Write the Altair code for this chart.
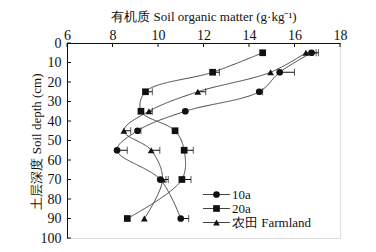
import altair as alt
import pandas as pd

depth = [5, 15, 25, 35, 45, 55, 70, 90]
series_names = ["10a", "20a", "农田 Farmland"]
som_10a = [16.75, 15.35, 14.45, 11.2, 9.1, 8.2, 10.1, 11.0]
som_20a = [14.6, 12.4, 9.45, 9.25, 10.75, 11.15, 11.05, 8.65]
som_farm = [16.5, 14.95, 11.75, 9.6, 8.5, 9.7, 10.2, 9.4]
err_10a = [0.3, 0.65, 0.15, 0.0, 0.15, 0.45, 0.25, 0.35]
err_20a = [0.0, 0.3, 0.3, 0.0, 0.0, 0.4, 0.4, 0.0]
err_farm = [0.45, 0.0, 0.35, 0.15, 0.3, 0.38, 0.25, 0.0]
x_ticks = [6, 8, 10, 12, 14, 16, 18]
y_ticks = [0, 10, 20, 30, 40, 50, 60, 70, 80, 90, 100]

rows = []
for name, vals, errs in zip(series_names, [som_10a, som_20a, som_farm], [err_10a, err_20a, err_farm]):
    for d, v, e in zip(depth, vals, errs):
        rows.append({"series": name, "line": name, "depth": d, "som": v, "hi": v + e, "err": e})
df = pd.DataFrame(rows)

FONT = "Liberation Serif"
INK = "#111111"

xscale = alt.Scale(domain=[6, 18], nice=False, zero=False)
yscale = alt.Scale(domain=[0, 100], reverse=True, nice=False)

X_AX = alt.Axis(orient="top", values=x_ticks, title="有机质 Soil organic matter (g·kg⁻¹)",
                labelPadding=1, titlePadding=5, labelOverlap=False, labelFlush=False,
                ticks=False, grid=False, labelFont=FONT, titleFont=FONT,
                labelFontSize=14, titleFontSize=13)
Y_AX = alt.Axis(orient="left", values=y_ticks, title="土层深度 Soil depth (cm)",
                labelPadding=6, titleX=-31, titleY=98, titleBaseline="middle",
                titleAlign="center", titleAngle=270, labelOverlap=False, labelFlush=False,
                ticks=False, grid=False, labelFont=FONT, titleFont=FONT,
                labelFontSize=14, titleFontSize=13)


def X(field):
    return alt.X(field, scale=xscale, axis=X_AX)


def Y(field):
    return alt.Y(field, scale=yscale, axis=Y_AX)


LEG_X, LEG_Y = 143, 145

base = alt.Chart(df)

lines = base.mark_line(interpolate="catmull-rom", color="#444444", strokeWidth=1).encode(
    x=X("som:Q"), y=Y("depth:Q"), order="depth:Q",
    strokeDash=alt.StrokeDash(
        "line:N",
        scale=alt.Scale(range=[[1, 0], [1, 0], [1, 0]]),
        legend=alt.Legend(title=None, orient="none", legendX=LEG_X, legendY=LEG_Y,
                          symbolType="M-4,0H4", symbolSize=45, symbolStrokeWidth=1,
                          symbolStrokeColor="#333333", labelOpacity=0, labelOffset=9,
                          labelFont=FONT, labelFontSize=13, rowPadding=0)))

err_df = df[df["err"] > 0]
err_rule = alt.Chart(err_df).mark_rule(color=INK, strokeWidth=1).encode(
    x=X("som:Q"), x2="hi:Q", y=Y("depth:Q"))
err_cap = alt.Chart(err_df).mark_tick(color=INK, orient="vertical", size=7, thickness=1).encode(
    x=X("hi:Q"), y=Y("depth:Q"))

shape_scale = alt.Scale(domain=series_names, range=["circle", "square", "triangle-up"])
points = base.mark_point(filled=True, opacity=1, color=INK).encode(
    x=X("som:Q"), y=Y("depth:Q"),
    shape=alt.Shape("series:N", scale=shape_scale,
                    legend=alt.Legend(title=None, orient="none", legendX=LEG_X, legendY=LEG_Y,
                                      symbolSize=45, symbolFillColor=INK, symbolStrokeColor=INK,
                                      symbolStrokeWidth=0, labelOffset=9,
                                      labelFont=FONT, labelFontSize=13, labelColor=INK,
                                      rowPadding=0)),
    size=alt.value(45))

xt = alt.Chart(pd.DataFrame({"som": x_ticks})).mark_rule(color=INK, strokeWidth=1).encode(
    x=X("som:Q"), y=alt.value(0), y2=alt.value(4))
yt = alt.Chart(pd.DataFrame({"depth": y_ticks})).mark_rule(color=INK, strokeWidth=1).encode(
    y=Y("depth:Q"), x=alt.value(0), x2=alt.value(4))

chart = alt.layer(lines, err_rule, err_cap, points, xt, yt).properties(
    width=273, height=195, autosize=alt.AutoSizeParams(type="none"),
    padding={"left": 67, "top": 43, "right": 36, "bottom": 14}
).configure_view(stroke=None).configure(
    background="white", font=FONT
).configure_axis(
    domainColor=INK, labelColor=INK, titleColor=INK, titleFontWeight="normal"
).configure_legend(
    symbolOpacity=1, labelFont=FONT, labelFontSize=13, labelColor=INK
)

chart.save("out.html", embed_options={"renderer": "svg", "actions": False})
